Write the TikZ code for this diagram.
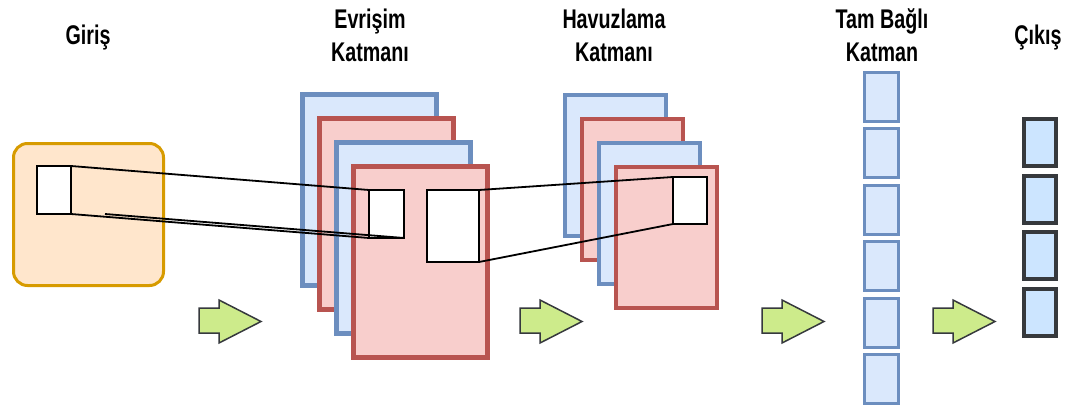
\documentclass[tikz,border=0pt]{standalone}
\usepackage{fontspec}
\setmainfont{Liberation Sans}
\usepackage{graphicx}
\definecolor{blueline}{HTML}{6C8EBF}
\definecolor{bluefill}{HTML}{DAE8FC}
\definecolor{redline}{HTML}{B85450}
\definecolor{redfill}{HTML}{F8CECC}
\definecolor{orangeline}{HTML}{D79B00}
\definecolor{orangefill}{HTML}{FFE6CC}
\definecolor{greenfill}{HTML}{CDEB8B}
\definecolor{darkline}{HTML}{36393D}
\definecolor{outfill}{HTML}{CCE5FF}
\newcommand{\narrowtext}[1]{\scalebox{0.73}[1]{#1}}
\begin{document}
\begin{tikzpicture}[x=1pt,y=-1pt,
  box/.style={anchor=north west, inner sep=0pt},
  convblue/.style={box, draw=blueline, fill=bluefill, line width=5pt, minimum width=134pt, minimum height=191pt},
  convred/.style={box, draw=redline, fill=redfill, line width=5pt, minimum width=134pt, minimum height=191pt},
  poolblue/.style={box, draw=blueline, fill=bluefill, line width=4pt, minimum width=101pt, minimum height=141pt},
  poolred/.style={box, draw=redline, fill=redfill, line width=4pt, minimum width=101pt, minimum height=141pt},
  fcbox/.style={box, draw=blueline, fill=bluefill, line width=3pt, minimum width=34pt, minimum height=49pt},
  outbox/.style={box, draw=darkline, fill=outfill, line width=4pt, minimum width=32pt, minimum height=47pt},
  inputbox/.style={box, draw=orangeline, fill=orangefill, line width=3pt, rounded corners=14pt, minimum width=150pt, minimum height=142pt},
  window/.style={box, outer sep=0pt, draw=black, fill=white, line width=1.8pt},
  link/.style={draw=black, line width=1.8pt},
  flowarrowstyle/.style={draw=darkline, fill=greenfill, line width=1.5pt, line join=miter},
  flowarrow/.pic={\path[flowarrowstyle] (0,8) -- (20,8) -- (20,0) -- (62,21.5) -- (20,43) -- (20,33) -- (0,33) -- cycle;},
  title/.style={font=\fontsize{27}{33}\selectfont\bfseries, align=center, inner sep=0pt},
  titleone/.style={font=\fontsize{27}{33}\selectfont\bfseries, inner sep=0pt, anchor=base}
]
\useasboundingbox (0,0) rectangle (1072,412);

% input image
\node[inputbox] (input) at (12,142) {};

% convolution feature maps
\node[convblue] (conv1) at (300,92) {};
\node[convred]  (conv2) at (317,116) {};
\node[convblue] (conv3) at (334,140) {};
\node[convred]  (conv4) at (351,164) {};

% pooling feature maps
\node[poolblue] (pool1) at (563,93) {};
\node[poolred]  (pool2) at (580,117) {};
\node[poolblue] (pool3) at (597,141) {};
\node[poolred]  (pool4) at (614,165) {};

% fully connected column
\foreach \i in {0,...,5}
  \node[fcbox] (fc\i) at (863,71+56.4*\i) {};

% output column
\foreach \i in {0,...,3}
  \node[outbox] (out\i) at (1022,117+56.7*\i) {};

% receptive windows
\node[window, minimum width=34pt, minimum height=48pt] (inwin) at (37,166) {};
\node[window, minimum width=35pt, minimum height=48pt] (convwin) at (369,190) {};
\node[window, minimum width=52pt, minimum height=72pt] (convbig) at (427,190) {};
\node[window, minimum width=34pt, minimum height=47pt] (poolwin) at (673,177) {};

% projections between windows
\coordinate (inedge) at (105,214);
\draw[link] (inwin.north east) -- (convwin.north west);
\draw[link] (inwin.south east) -- (convwin.south west);
\draw[link] (inedge) -- (convwin.south east);
\draw[link] (convbig.north east) -- (poolwin.north west);
\draw[link] (convbig.south east) -- (poolwin.south west);

% flow arrows
\pic at (199,300) {flowarrow};
\pic at (520,300) {flowarrow};
\pic at (762,300) {flowarrow};
\pic at (933,300) {flowarrow};

% titles
\node[titleone] (tin) at (88,45) {\narrowtext{Giriş}};
\node[title] (tconv) at (370,35) {\narrowtext{Evrişim}\\\narrowtext{Katmanı}};
\node[title] (tpool) at (614,35) {\narrowtext{Havuzlama}\\\narrowtext{Katmanı}};
\node[title] (tfc) at (882,35) {\narrowtext{Tam Bağlı}\\\narrowtext{Katman}};
\node[titleone] (tout) at (1038,45) {\narrowtext{Çıkış}};
\end{tikzpicture}
\end{document}
